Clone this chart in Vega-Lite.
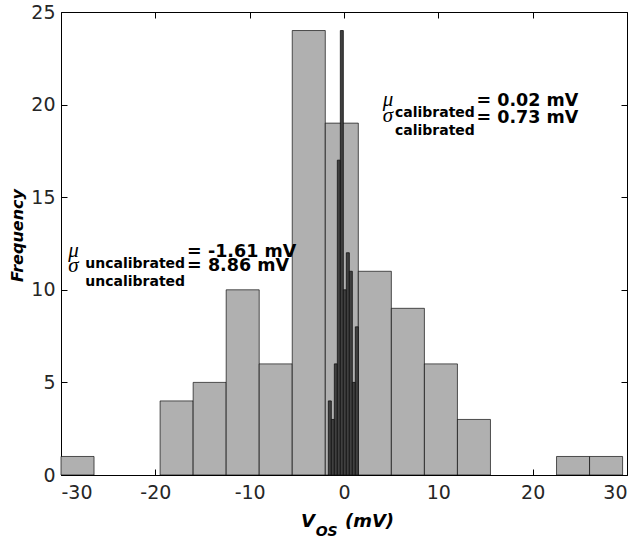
{
  "$schema": "https://vega.github.io/schema/vega-lite/v6.json",
  "width": 566,
  "height": 463,
  "autosize": {"type": "none"},
  "padding": {"left": 61, "top": 12, "right": 10, "bottom": 63},
  "background": "white",
  "config": {
    "view": {"stroke": null},
    "axis": {
      "grid": false,
      "domainColor": "#000000",
      "domainWidth": 1,
      "tickColor": "#000000",
      "tickWidth": 1,
      "tickSize": 6,
      "labelFont": "DejaVu Sans",
      "labelFontSize": 19,
      "labelColor": "#262626",
      "labelExpr": "replace(datum.label, '−', '-')",
      "titleFont": "DejaVu Sans",
      "titleColor": "#000000"
    },
    "text": {"color": "#000000"}
  },
  "datasets": {
    "uncalibrated": [
      {"x0": -30, "x1": -26.498, "count": 1},
      {"x0": -19.494, "x1": -15.992, "count": 4},
      {"x0": -15.992, "x1": -12.49, "count": 5},
      {"x0": -12.49, "x1": -8.988, "count": 10},
      {"x0": -8.988, "x1": -5.486, "count": 6},
      {"x0": -5.486, "x1": -1.984, "count": 24},
      {"x0": -1.984, "x1": 1.518, "count": 19},
      {"x0": 1.518, "x1": 5.02, "count": 11},
      {"x0": 5.02, "x1": 8.522, "count": 9},
      {"x0": 8.522, "x1": 12.024, "count": 6},
      {"x0": 12.024, "x1": 15.526, "count": 3},
      {"x0": 22.53, "x1": 26.032, "count": 1},
      {"x0": 26.032, "x1": 29.534, "count": 1}
    ],
    "calibrated": [
      {"x0": -1.66, "x1": -1.342, "count": 4},
      {"x0": -1.342, "x1": -1.024, "count": 3},
      {"x0": -1.024, "x1": -0.706, "count": 6},
      {"x0": -0.706, "x1": -0.388, "count": 17},
      {"x0": -0.388, "x1": -0.07, "count": 24},
      {"x0": -0.07, "x1": 0.248, "count": 10},
      {"x0": 0.248, "x1": 0.566, "count": 12},
      {"x0": 0.566, "x1": 0.884, "count": 11},
      {"x0": 0.884, "x1": 1.202, "count": 5},
      {"x0": 1.202, "x1": 1.52, "count": 8}
    ]
  },
  "layer": [
    {
      "layer": [
        {
          "data": {"name": "uncalibrated"},
          "mark": {"type": "bar", "fill": "#b0b0b0", "stroke": "#000000", "strokeOpacity": 0.65, "strokeWidth": 1},
          "encoding": {
            "x": {
              "field": "x0", "type": "quantitative",
              "scale": {"domain": [-30, 30], "nice": false, "zero": false},
              "axis": {"orient": "bottom", "values": [-30, -20, -10, 0, 10, 20, 30], "title": null, "ticks": false, "labelPadding": 8}
            },
            "x2": {"field": "x1"},
            "y": {
              "field": "count", "type": "quantitative",
              "scale": {"domain": [0, 25], "nice": false},
              "axis": {
                "orient": "left", "values": [0, 5, 10, 15, 20, 25], "ticks": false, "labelPadding": 6,
                "title": "Frequency", "titleFontSize": 16, "titleFontWeight": "bold", "titleFontStyle": "italic",
                "titlePadding": 5, "titleY": 223
              }
            },
            "y2": {"datum": 0}
          }
        },
        {
          "data": {"name": "calibrated"},
          "mark": {"type": "bar", "fill": "#404040", "stroke": "#111111", "strokeWidth": 0.8},
          "encoding": {
            "x": {"field": "x0", "type": "quantitative"},
            "x2": {"field": "x1"},
            "y": {"field": "count", "type": "quantitative"},
            "y2": {"datum": 0}
          }
        },
        {
          "data": {"values": [{}]},
          "mark": {"type": "text", "text": "μ", "font": "Liberation Serif", "fontStyle": "italic", "fontSize": 21, "align": "left", "baseline": "alphabetic"},
          "encoding": {"x": {"datum": 4.1, "type": "quantitative"}, "y": {"datum": 19.91, "type": "quantitative"}}
        },
        {
          "data": {"values": [{}]},
          "mark": {"type": "text", "text": "calibrated", "font": "DejaVu Sans", "fontWeight": "bold", "fontSize": 14, "align": "left", "baseline": "alphabetic"},
          "encoding": {"x": {"datum": 5.4, "type": "quantitative"}, "y": {"datum": 19.35, "type": "quantitative"}}
        },
        {
          "data": {"values": [{}]},
          "mark": {"type": "text", "text": "= 0.02 mV", "font": "DejaVu Sans", "fontWeight": "bold", "fontSize": 17.5, "align": "left", "baseline": "alphabetic"},
          "encoding": {"x": {"datum": 14.05, "type": "quantitative"}, "y": {"datum": 19.94, "type": "quantitative"}}
        },
        {
          "data": {"values": [{}]},
          "mark": {"type": "text", "text": "σ", "font": "Liberation Serif", "fontStyle": "italic", "fontSize": 21, "align": "left", "baseline": "alphabetic"},
          "encoding": {"x": {"datum": 4.1, "type": "quantitative"}, "y": {"datum": 19.04, "type": "quantitative"}}
        },
        {
          "data": {"values": [{}]},
          "mark": {"type": "text", "text": "calibrated", "font": "DejaVu Sans", "fontWeight": "bold", "fontSize": 14, "align": "left", "baseline": "alphabetic"},
          "encoding": {"x": {"datum": 5.4, "type": "quantitative"}, "y": {"datum": 18.37, "type": "quantitative"}}
        },
        {
          "data": {"values": [{}]},
          "mark": {"type": "text", "text": "= 0.73 mV", "font": "DejaVu Sans", "fontWeight": "bold", "fontSize": 17.5, "align": "left", "baseline": "alphabetic"},
          "encoding": {"x": {"datum": 14.05, "type": "quantitative"}, "y": {"datum": 19.01, "type": "quantitative"}}
        },
        {
          "data": {"values": [{}]},
          "mark": {"type": "text", "text": "μ", "font": "Liberation Serif", "fontStyle": "italic", "fontSize": 21, "align": "left", "baseline": "alphabetic"},
          "encoding": {"x": {"datum": -29.23, "type": "quantitative"}, "y": {"datum": 11.79, "type": "quantitative"}}
        },
        {
          "data": {"values": [{}]},
          "mark": {"type": "text", "text": "uncalibrated", "font": "DejaVu Sans", "fontWeight": "bold", "fontSize": 14, "align": "left", "baseline": "alphabetic"},
          "encoding": {"x": {"datum": -27.43, "type": "quantitative"}, "y": {"datum": 11.19, "type": "quantitative"}}
        },
        {
          "data": {"values": [{}]},
          "mark": {"type": "text", "text": "= -1.61 mV", "font": "DejaVu Sans", "fontWeight": "bold", "fontSize": 17.5, "align": "left", "baseline": "alphabetic"},
          "encoding": {"x": {"datum": -16.63, "type": "quantitative"}, "y": {"datum": 11.79, "type": "quantitative"}}
        },
        {
          "data": {"values": [{}]},
          "mark": {"type": "text", "text": "σ", "font": "Liberation Serif", "fontStyle": "italic", "fontSize": 21, "align": "left", "baseline": "alphabetic"},
          "encoding": {"x": {"datum": -29.23, "type": "quantitative"}, "y": {"datum": 10.98, "type": "quantitative"}}
        },
        {
          "data": {"values": [{}]},
          "mark": {"type": "text", "text": "uncalibrated", "font": "DejaVu Sans", "fontWeight": "bold", "fontSize": 14, "align": "left", "baseline": "alphabetic"},
          "encoding": {"x": {"datum": -27.43, "type": "quantitative"}, "y": {"datum": 10.22, "type": "quantitative"}}
        },
        {
          "data": {"values": [{}]},
          "mark": {"type": "text", "text": "= 8.86 mV", "font": "DejaVu Sans", "fontWeight": "bold", "fontSize": 17.5, "align": "left", "baseline": "alphabetic"},
          "encoding": {"x": {"datum": -16.63, "type": "quantitative"}, "y": {"datum": 10.99, "type": "quantitative"}}
        },
        {
          "data": {"values": [{}]},
          "mark": {"type": "text", "text": "V", "font": "DejaVu Sans", "fontWeight": "bold", "fontStyle": "italic", "fontSize": 18, "align": "left", "baseline": "alphabetic"},
          "encoding": {"x": {"datum": -4.56, "type": "quantitative"}, "y": {"datum": -2.8, "type": "quantitative"}}
        },
        {
          "data": {"values": [{}]},
          "mark": {"type": "text", "text": "OS", "font": "DejaVu Sans", "fontWeight": "bold", "fontStyle": "italic", "fontSize": 14, "align": "left", "baseline": "alphabetic"},
          "encoding": {"x": {"datum": -3.0, "type": "quantitative"}, "y": {"datum": -3.3, "type": "quantitative"}}
        },
        {
          "data": {"values": [{}]},
          "mark": {"type": "text", "text": "(mV)", "font": "DejaVu Sans", "fontWeight": "bold", "fontStyle": "italic", "fontSize": 18, "align": "left", "baseline": "alphabetic"},
          "encoding": {"x": {"datum": 0.1, "type": "quantitative"}, "y": {"datum": -2.8, "type": "quantitative"}}
        }
      ]
    },
    {
      "data": {"name": "uncalibrated"},
      "mark": {"type": "point", "opacity": 0},
      "encoding": {
        "x": {
          "field": "x0", "type": "quantitative",
          "axis": {"orient": "top", "offset": -463, "values": [-30, -20, -10, 0, 10, 20, 30], "labels": false, "domain": false, "title": null}
        },
        "y": {
          "field": "count", "type": "quantitative",
          "axis": {"orient": "right", "offset": -566, "values": [0, 5, 10, 15, 20, 25], "labels": false, "domain": false, "title": null}
        }
      }
    },
    {
      "data": {"name": "uncalibrated"},
      "mark": {"type": "point", "opacity": 0},
      "encoding": {
        "x": {
          "field": "x0", "type": "quantitative",
          "axis": {"orient": "bottom", "offset": -463, "values": [-30, -20, -10, 0, 10, 20, 30], "labels": false, "title": null}
        },
        "y": {
          "field": "count", "type": "quantitative",
          "axis": {"orient": "left", "offset": -566, "values": [0, 5, 10, 15, 20, 25], "labels": false, "title": null}
        }
      }
    }
  ],
  "resolve": {"axis": {"x": "independent", "y": "independent"}}
}
